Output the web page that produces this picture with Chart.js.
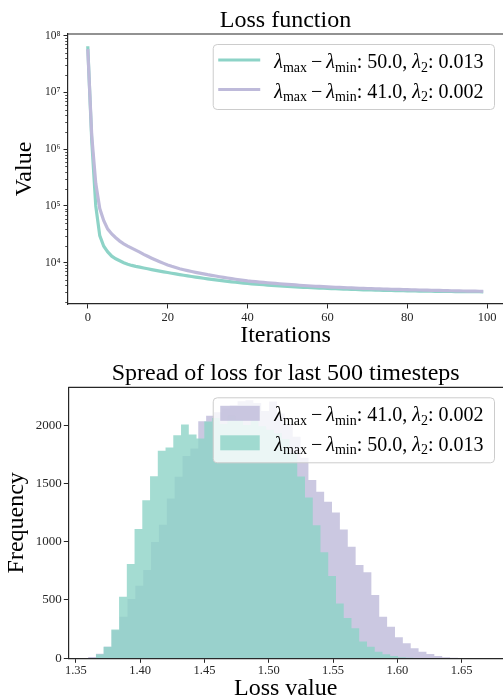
<!DOCTYPE html>
<html lang="en">
<head>
    <meta charset="UTF-8">
    <title>Loss function</title>
    <script src="https://cdn.jsdelivr.net/npm/chart.js"></script>
    <style>
        body { margin: 0; background: #fff; }
        canvas { display: block; }
    </style>
</head>
<body>
    <canvas id="loss-chart" width="503" height="352"></canvas>
    <canvas id="spread-chart" width="503" height="348"></canvas>

    <script>
        // ---- data ----
        const labelA = 'λ_{max}\u2009−\u2009λ_{min}: 50.0, λ_{2}: 0.013';
        const labelB = 'λ_{max}\u2009−\u2009λ_{min}: 41.0, λ_{2}: 0.002';

        const iterations = [...Array(100).keys()];

        // loss per iteration, run A (teal)
        const lossA = [
            6.5e7, 1.4e6, 1.0e5, 3.0e4, 1.95e4, 1.55e4, 1.3e4, 1.17e4, 1.08e4, 1.0e4,
            9400, 8950, 8620, 8340, 8065, 7810, 7560, 7330, 7110, 6900,
            6700, 6510, 6330, 6160, 6000, 5850, 5700, 5565, 5435, 5310,
            5190, 5080, 4975, 4875, 4780, 4690, 4600, 4520, 4440, 4370,
            4300, 4240, 4185, 4130, 4080, 4030, 3985, 3940, 3900, 3860,
            3820, 3785, 3750, 3715, 3680, 3650, 3620, 3595, 3565, 3540,
            3520, 3495, 3470, 3447, 3425, 3405, 3385, 3365, 3348, 3330,
            3315, 3300, 3285, 3270, 3258, 3245, 3233, 3222, 3211, 3200,
            3190, 3180, 3171, 3162, 3154, 3146, 3139, 3132, 3125, 3118,
            3112, 3107, 3101, 3096, 3091, 3086, 3082, 3078, 3074, 3070
        ];

        // loss per iteration, run B (lavender)
        const lossB = [
            5.8e7, 1.7e6, 2.5e5, 9.0e4, 5.5e4, 3.9e4, 3.2e4, 2.75e4, 2.4e4, 2.15e4,
            1.96e4, 1.8e4, 16600, 15300, 14000, 12950, 12000, 11150, 10400, 9720,
            9120, 8620, 8200, 7830, 7510, 7230, 6980, 6750, 6540, 6340,
            6150, 5990, 5820, 5660, 5510, 5365, 5230, 5105, 4985, 4870,
            4770, 4695, 4625, 4555, 4490, 4425, 4365, 4305, 4250, 4195,
            4145, 4095, 4050, 4005, 3960, 3920, 3880, 3845, 3810, 3780,
            3750, 3720, 3690, 3665, 3640, 3615, 3590, 3565, 3545, 3525,
            3505, 3487, 3469, 3452, 3435, 3419, 3403, 3388, 3373, 3358,
            3344, 3330, 3316, 3302, 3288, 3275, 3262, 3250, 3238, 3226,
            3215, 3203, 3192, 3182, 3172, 3162, 3152, 3143, 3134, 3125
        ];

        // histogram of loss over the last 500 timesteps (50 bins each)
        const spreadRangeA = [1.3655, 1.6668];
        const spreadCountsA = [
            34, 99, 248, 528, 808, 1108, 1356, 1562, 1779, 1808,
            1913, 2005, 1920, 1885, 2030, 2060, 2010, 2080, 2050, 2000,
            2040, 1990, 1960, 1930, 1880, 1760, 1560, 1380, 1140, 910,
            705, 471, 345, 257, 143, 100, 57, 34, 20, 9,
            4, 2, 1, 1, 0, 0, 0, 0, 0, 1
        ];
        const spreadRangeB = [1.3595, 1.6655];
        const spreadCountsB = [
            12, 38, 100, 240, 357, 508, 622, 757, 997, 1145,
            1371, 1556, 1734, 1800, 2033, 2080, 2110, 2140, 2170, 2205,
            2213, 2190, 2120, 2202, 2100, 2010, 1900, 1720, 1528, 1428,
            1342, 1251, 1105, 956, 800, 737, 542, 357, 271, 180,
            128, 86, 57, 37, 20, 9, 5, 2, 1, 1
        ];

        const lossTicksX = [0, 20, 40, 60, 80, 100];
        const lossTicksY = [1e4, 1e5, 1e6, 1e7, 1e8];
        const spreadTicksX = [1.35, 1.40, 1.45, 1.50, 1.55, 1.60, 1.65];
        const spreadTicksY = [0, 500, 1000, 1500, 2000];

        // ---- styling ----
        const SERIF = '"Liberation Serif", "Times New Roman", serif';
        const TEAL = 'rgb(141, 211, 199)';
        const LAVENDER = 'rgb(190, 186, 218)';
        const TEAL_FILL = 'rgba(141, 211, 199, 0.8)';
        const LAVENDER_FILL = 'rgba(190, 186, 218, 0.8)';
        const AXIS = '#262626';

        Chart.defaults.font.family = SERIF;
        Chart.defaults.color = AXIS;

        const SUP = { '0': '⁰', '1': '¹', '2': '²', '3': '³', '4': '⁴', '5': '⁵', '6': '⁶', '7': '⁷', '8': '⁸', '9': '⁹' };
        function powerLabel(v) {
            const e = String(Math.round(Math.log10(v)));
            return '10' + e.split('').map(d => SUP[d]).join('');
        }

        // histogram -> step outline points (left edge of every bin, closed at the last edge)
        function histPoints(counts, range) {
            const w = (range[1] - range[0]) / counts.length;
            const pts = counts.map((c, k) => ({ x: range[0] + k * w, y: c }));
            pts.push({ x: range[1], y: 0 });
            return pts;
        }

        // draw a label with λ in italics and _{...} as subscripts
        function drawMath(ctx, text, x, y, size, draw) {
            const tokens = text.split(/(λ|_\{[^}]*\})/).filter(t => t.length);
            let cx = x;
            tokens.forEach(t => {
                let font = `${size}px ${SERIF}`;
                let dy = 0;
                let s = t;
                if (t === 'λ') {
                    font = `italic ${size}px ${SERIF}`;
                } else if (t.startsWith('_{')) {
                    s = t.slice(2, -1);
                    font = `${size * 0.7}px ${SERIF}`;
                    dy = size * 0.18;
                }
                ctx.font = font;
                if (draw) ctx.fillText(s, cx, y + dy);
                cx += ctx.measureText(s).width;
            });
            return cx - x;
        }

        // matplotlib-like legend box in the upper right corner
        const legendBox = {
            id: 'legendBox',
            afterDatasetsDraw(chart, args, opts) {
                const { ctx, chartArea } = chart;
                const size = opts.fontSize;
                ctx.save();
                let textW = 0;
                opts.items.forEach(i => {
                    textW = Math.max(textW, drawMath(ctx, chart.data.datasets[i].label, 0, 0, size, false));
                });
                const right = chartArea.right - 9;
                const top = chartArea.top + 10;
                const width = textW + 72;
                const left = right - width;
                const height = 65;

                ctx.beginPath();
                ctx.roundRect(left + 0.5, top + 0.5, width, height, 4);
                ctx.fillStyle = 'rgba(255, 255, 255, 0.8)';
                ctx.fill();
                ctx.strokeStyle = '#cccccc';
                ctx.lineWidth = 1;
                ctx.stroke();

                opts.items.forEach((i, row) => {
                    const ds = chart.data.datasets[i];
                    const cy = top + 16 + row * 29.5;
                    if (opts.kind === 'line') {
                        ctx.beginPath();
                        ctx.moveTo(left + 5.5, cy);
                        ctx.lineTo(left + 47.5, cy);
                        ctx.strokeStyle = ds.borderColor;
                        ctx.lineWidth = 3;
                        ctx.stroke();
                    } else {
                        ctx.fillStyle = ds.backgroundColor;
                        ctx.fillRect(left + 7.5, cy - 7.5, 39.5, 15);
                    }
                    ctx.fillStyle = '#000';
                    ctx.textBaseline = 'alphabetic';
                    ctx.textAlign = 'left';
                    drawMath(ctx, ds.label, left + 61.5, cy + 8, size, true);
                });
                ctx.restore();
            }
        };

        // top spine + short minor ticks on log axes
        const frameExtras = {
            id: 'frameExtras',
            afterDraw(chart) {
                const { ctx, chartArea } = chart;
                ctx.save();
                ctx.strokeStyle = AXIS;
                ctx.lineWidth = 1.2;
                ctx.beginPath();
                ctx.moveTo(chartArea.left, chartArea.top);
                ctx.lineTo(chartArea.right, chartArea.top);
                ctx.stroke();

                const y = chart.scales.y;
                if (y.type === 'logarithmic') {
                    ctx.lineWidth = 0.8;
                    for (let e = 3; e < 8; e++) {
                        for (let m = 2; m < 10; m++) {
                            const v = m * Math.pow(10, e);
                            if (v < y.min || v > y.max) continue;
                            const py = Math.round(y.getPixelForValue(v)) + 0.5;
                            ctx.beginPath();
                            ctx.moveTo(chartArea.left - 2.8, py);
                            ctx.lineTo(chartArea.left, py);
                            ctx.stroke();
                        }
                    }
                }
                ctx.restore();
            }
        };

        function axisCommon(tickValues, extra) {
            return Object.assign({
                border: { display: true, color: AXIS, width: 1.2 },
                grid: { display: true, drawOnChartArea: false, drawTicks: true, tickLength: 4.5, tickColor: AXIS, tickWidth: 1 },
                afterBuildTicks: scale => { scale.ticks = tickValues.map(v => ({ value: v })); }
            }, extra);
        }

        // ---- loss function ----
        new Chart(document.getElementById('loss-chart'), {
            type: 'line',
            data: {
                datasets: [{
                    label: labelA,
                    data: lossA.map((v, i) => ({ x: iterations[i], y: v })),
                    borderColor: TEAL,
                    borderWidth: 3.2,
                    pointRadius: 0,
                    tension: 0,
                    order: 1
                }, {
                    label: labelB,
                    data: lossB.map((v, i) => ({ x: iterations[i], y: v })),
                    borderColor: LAVENDER,
                    borderWidth: 3.2,
                    pointRadius: 0,
                    tension: 0,
                    order: 0
                }]
            },
            options: {
                responsive: false,
                animation: false,
                devicePixelRatio: 1,
                events: [],
                layout: { padding: 0 },
                plugins: {
                    legend: { display: false },
                    tooltip: { enabled: false },
                    title: {
                        display: true,
                        fullSize: false,
                        text: 'Loss function',
                        color: '#000',
                        font: { family: SERIF, size: 24, weight: 'normal', lineHeight: 1 },
                        padding: { top: 9, bottom: 1 }
                    },
                    legendBox: { items: [0, 1], kind: 'line', fontSize: 20 }
                },
                scales: {
                    x: axisCommon(lossTicksX, {
                        type: 'linear',
                        min: -4.95,
                        max: 103.95,
                        ticks: { font: { size: 12.5 }, padding: 1.5, maxRotation: 0 },
                        title: {
                            display: true, text: 'Iterations', color: '#000',
                            font: { size: 24, lineHeight: 1 }, padding: { top: 0, bottom: 4.2 }
                        },
                        afterFit: scale => { scale.height = 48; }
                    }),
                    y: axisCommon(lossTicksY, {
                        type: 'logarithmic',
                        min: 1870,
                        max: 1.07e8,
                        ticks: { font: { size: 11.5 }, padding: 3, callback: v => powerLabel(v) },
                        title: {
                            display: true, text: 'Value', color: '#000',
                            font: { size: 24, lineHeight: 1 }, padding: { top: 13, bottom: 0 }
                        },
                        afterFit: scale => { scale.width = 68; }
                    })
                }
            },
            plugins: [legendBox, frameExtras]
        });

        // ---- spread of loss ----
        new Chart(document.getElementById('spread-chart'), {
            type: 'line',
            data: {
                datasets: [{
                    label: labelB,
                    data: histPoints(spreadCountsB, spreadRangeB),
                    stepped: true,
                    fill: 'origin',
                    backgroundColor: LAVENDER_FILL,
                    borderColor: 'rgba(0, 0, 0, 0)',
                    borderWidth: 0,
                    pointRadius: 0,
                    order: 1
                }, {
                    label: labelA,
                    data: histPoints(spreadCountsA, spreadRangeA),
                    stepped: true,
                    fill: 'origin',
                    backgroundColor: TEAL_FILL,
                    borderColor: 'rgba(0, 0, 0, 0)',
                    borderWidth: 0,
                    pointRadius: 0,
                    order: 0
                }]
            },
            options: {
                responsive: false,
                animation: false,
                devicePixelRatio: 1,
                events: [],
                layout: { padding: 0 },
                plugins: {
                    legend: { display: false },
                    tooltip: { enabled: false },
                    title: {
                        display: true,
                        fullSize: false,
                        text: 'Spread of loss for last 500 timesteps',
                        color: '#000',
                        font: { family: SERIF, size: 24, weight: 'normal', lineHeight: 1 },
                        padding: { top: 10, bottom: 1.3 }
                    },
                    legendBox: { items: [0, 1], kind: 'patch', fontSize: 20 }
                },
                scales: {
                    x: axisCommon(spreadTicksX, {
                        type: 'linear',
                        min: 1.3441,
                        max: 1.6822,
                        ticks: { font: { size: 12.5 }, padding: 0, maxRotation: 0, callback: v => v.toFixed(2) },
                        title: {
                            display: true, text: 'Loss value', color: '#000',
                            font: { size: 24, lineHeight: 0.9 }, padding: { top: 0, bottom: 0 }
                        },
                        afterFit: scale => { scale.height = 41.7; }
                    }),
                    y: axisCommon(spreadTicksY, {
                        type: 'linear',
                        min: 0,
                        max: 2324,
                        ticks: { font: { size: 13 }, padding: 2, callback: v => String(v) },
                        title: {
                            display: true, text: 'Frequency', color: '#000',
                            font: { size: 24, lineHeight: 1 }, padding: { top: 4.6, bottom: 0 }
                        },
                        afterFit: scale => { scale.width = 68.3; }
                    })
                }
            },
            plugins: [legendBox, frameExtras]
        });
    </script>
</body>
</html>
